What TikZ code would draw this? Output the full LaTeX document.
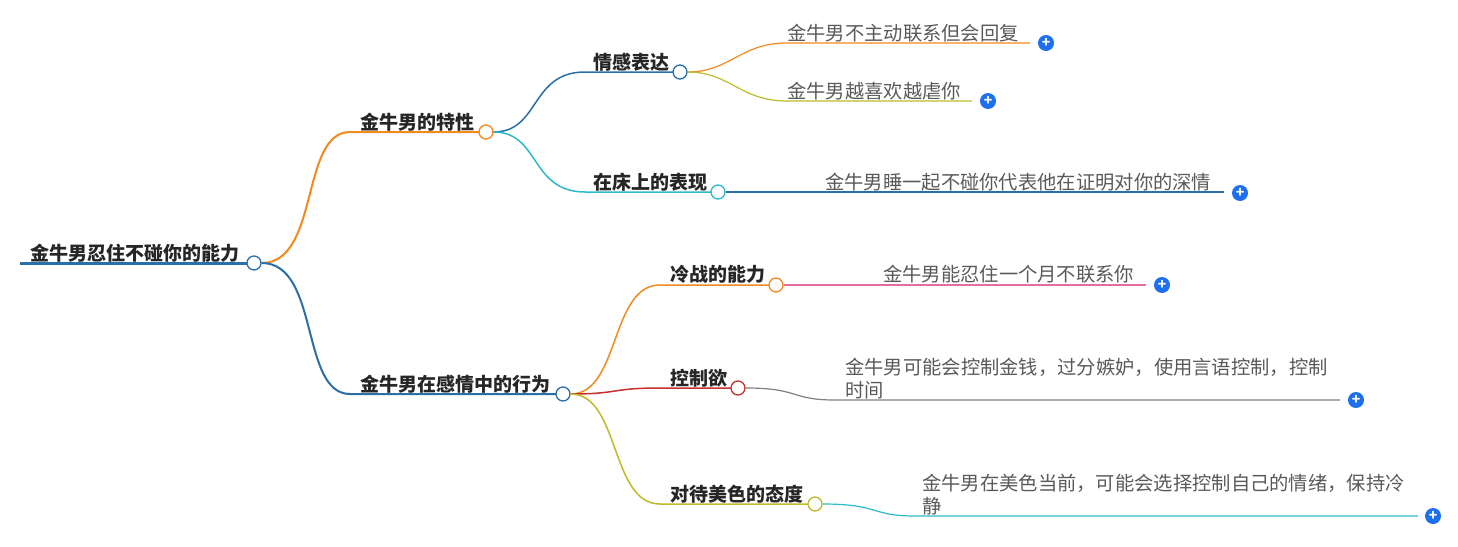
\documentclass[tikz,border=0pt]{standalone}
\usepackage{fontspec}
\setmainfont{Noto Sans CJK SC}
\begin{document}
\begin{tikzpicture}[x=1pt,y=-1pt,
  lbl/.style={font=\fontsize{19}{20}\selectfont\bfseries,text=black!85,anchor=base west,inner sep=0},
  leaf/.style={font=\fontsize{19.3}{23}\selectfont,text=black!65,anchor=base west,inner sep=0,align=left},
  dot/.style={circle,draw=#1,fill=white,line width=1.3pt,minimum size=14pt,inner sep=0},
  plus/.style={circle,fill=pb,minimum size=16pt,inner sep=0,text=white,font=\bfseries\fontsize{14}{14}\selectfont}]
\definecolor{cb}{HTML}{2A6FA8}\definecolor{co}{HTML}{F28A1E}\definecolor{cc}{HTML}{2BBBC8}
\definecolor{cy}{HTML}{BFBA2A}\definecolor{cp}{HTML}{E86AA0}\definecolor{cr}{HTML}{C8302C}\definecolor{cg}{HTML}{808080}
\definecolor{pb}{HTML}{1E6EF0}
\useasboundingbox (0,0) rectangle (1458,546);
% root
\node[lbl] (rt) at (30,260) {金牛男忍住不碰你的能力};
\draw[cb,line width=3pt] (20,263) -- (247,263);
\node[dot=cb] (r) at (254,263) {};
% branch 1
\node[lbl] (b1t) at (360,129) {金牛男的特性};
\draw[co,line width=2pt] (r.east) .. controls (320,263) and (300,132) .. (350,132) -- (479,132);
\node[dot=co] (b1) at (486,132) {};
% branch 2
\node[lbl] (b2t) at (360,391) {金牛男在感情中的行为};
\draw[cb,line width=2pt] (r.east) .. controls (320,263) and (300,394) .. (350,394) -- (556,394);
\node[dot=cb] (b2) at (563,394) {};
% subs of b1
\node[lbl] at (593,69) {情感表达};
\draw[cb,line width=1.5pt] (b1.east) .. controls (540,132) and (530,72) .. (585,72) -- (673,72);
\node[dot=cb] (s1) at (680,72) {};
\node[lbl] at (593,189) {在床上的表现};
\draw[cc,line width=1.5pt] (b1.east) .. controls (540,132) and (530,192) .. (585,192) -- (711,192);
\node[dot=cc] (s2) at (718,192) {};
% leaves b1
\node[leaf] at (787,40) {金牛男不主动联系但会回复};
\draw[co,line width=1.2pt] (s1.east) .. controls (730,72) and (740,43) .. (787,43) -- (1030,43);
\node[plus] at (1046,43) {+};
\node[leaf] at (787,98) {金牛男越喜欢越虐你};
\draw[cy,line width=1.2pt] (s1.east) .. controls (730,72) and (740,101) .. (787,101) -- (972,101);
\node[plus] at (988,101) {+};
\node[leaf] at (825,189) {金牛男睡一起不碰你代表他在证明对你的深情};
\draw[cb,line width=1.2pt] (s2.east) -- (1224,192);
\node[plus] at (1240,193) {+};
% subs of b2
\node[lbl] at (670,281) {冷战的能力};
\draw[co,line width=1.5pt] (b2.east) .. controls (620,394) and (610,285) .. (660,285) -- (769,285);
\node[dot=co] (s3) at (776,285) {};
\node[lbl] at (670,385) {控制欲};
\draw[cr,line width=1.5pt] (b2.east) .. controls (620,394) and (610,388) .. (660,388) -- (731,388);
\node[dot=cr] (s4) at (738,388) {};
\node[lbl] at (670,501) {对待美色的态度};
\draw[cy,line width=1.5pt] (b2.east) .. controls (620,394) and (610,504) .. (660,504) -- (808,504);
\node[dot=cy] (s5) at (815,504) {};
% leaves b2
\node[leaf] at (883,281) {金牛男能忍住一个月不联系你};
\draw[cp,line width=1.2pt] (s3.east) -- (1146,285);
\node[plus] at (1162,285) {+};
\node[leaf] at (845,397) {金牛男可能会控制金钱，过分嫉妒，使用言语控制，控制\\时间};
\draw[cg,line width=1.2pt] (s4.east) .. controls (800,388) and (790,400) .. (835,400) -- (1340,400);
\node[plus] at (1356,400) {+};
\node[leaf] at (922,513) {金牛男在美色当前，可能会选择控制自己的情绪，保持冷\\静};
\draw[cc,line width=1.2pt] (s5.east) .. controls (880,504) and (870,516) .. (915,516) -- (1418,516);
\node[plus] at (1433,516) {+};
\end{tikzpicture}
\end{document}
